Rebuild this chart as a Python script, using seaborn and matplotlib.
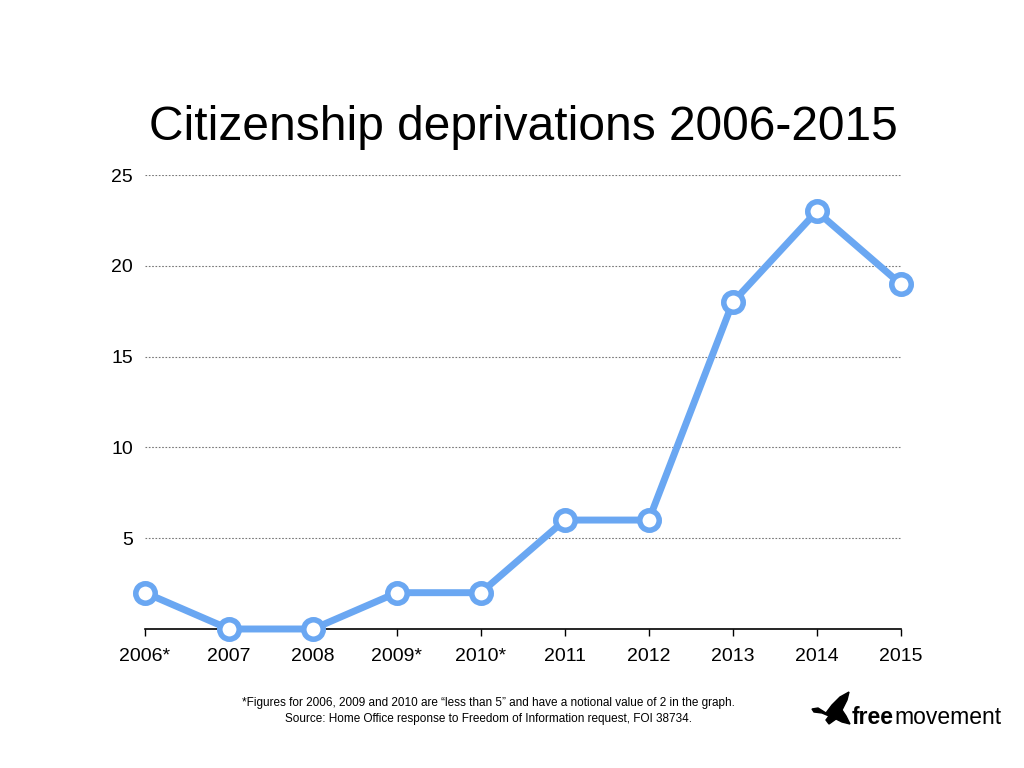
import matplotlib
matplotlib.use("Agg")
import matplotlib.pyplot as plt
from matplotlib.patches import Polygon
import seaborn as sns
import pandas as pd

years = ["2006*", "2007", "2008", "2009*", "2010*", "2011", "2012", "2013", "2014", "2015"]
deprivations = [2, 0, 0, 2, 2, 6, 6, 18, 23, 19]
y_ticks = [5, 10, 15, 20, 25]

df = pd.DataFrame({"Year": years, "Deprivations": deprivations})

sns.set_style("white")
plt.rcParams["font.family"] = ["Liberation Sans", "DejaVu Sans"]
plt.rcParams["text.color"] = "black"
plt.rcParams["xtick.color"] = "black"
plt.rcParams["ytick.color"] = "black"

fig = plt.figure(figsize=(10.24, 7.68), dpi=100)
ax = fig.add_axes([0.1416, 0.181, 0.738, 0.591])

line_color = "#6aa7f2"
sns.lineplot(data=df, x="Year", y="Deprivations", ax=ax, color=line_color,
             linewidth=5, marker="o", markersize=14, markerfacecolor="white",
             markeredgecolor=line_color, markeredgewidth=4, sort=False, clip_on=False,
             zorder=3)

ax.set_xlim(0, len(years) - 1)
ax.set_ylim(0, 25)
ax.set_yticks(y_ticks)
ax.yaxis.grid(True, linestyle=(0, (1.5, 1.5)), color="#777777", linewidth=0.8)
ax.xaxis.grid(False)
ax.set_xlabel("")
ax.set_ylabel("")
for side in ["left", "right", "top"]:
    ax.spines[side].set_visible(False)
ax.spines["bottom"].set_color("black")
ax.spines["bottom"].set_linewidth(1.2)
ax.tick_params(axis="x", which="major", bottom=True, length=5, width=1, color="black",
               labelsize=14, pad=9)
ax.tick_params(axis="y", left=False, labelsize=14, pad=5)

fig.text(0.511, 0.834, "Citizenship deprivations 2006-2015", ha="center", va="center",
         fontsize=34.5)

fig.text(0.477, 0.074, "*Figures for 2006, 2009 and 2010 are \u201cless than 5\u201d and have a notional value of 2 in the graph.\n"
         "Source: Home Office response to Freedom of Information request, FOI 38734.",
         ha="center", va="center", fontsize=8.5, linespacing=1.4)

# logo: bird silhouette + bold "free" followed by "movement"
bird_px = [(812, 709), (818, 708), (826, 713), (832, 705), (840, 697), (849, 692),
           (847, 700), (842, 710), (846, 716), (850, 724), (842, 722), (836, 719),
           (829, 724), (826, 720), (829, 716), (822, 713), (814, 712)]
bird = Polygon([(x / 1024, 1 - y / 768) for x, y in bird_px], closed=True,
               transform=fig.transFigure, facecolor="black", edgecolor="black")
fig.add_artist(bird)

t1 = fig.text(0.832, 0.066, "free", fontsize=16.5, fontweight="bold", ha="left", va="center")
fig.canvas.draw()
bb = t1.get_window_extent(renderer=fig.canvas.get_renderer())
fig.text(bb.x1 / fig.bbox.width, 0.066, "movement", fontsize=16.5, ha="left", va="center")

plt.savefig("out.png", dpi=100)
